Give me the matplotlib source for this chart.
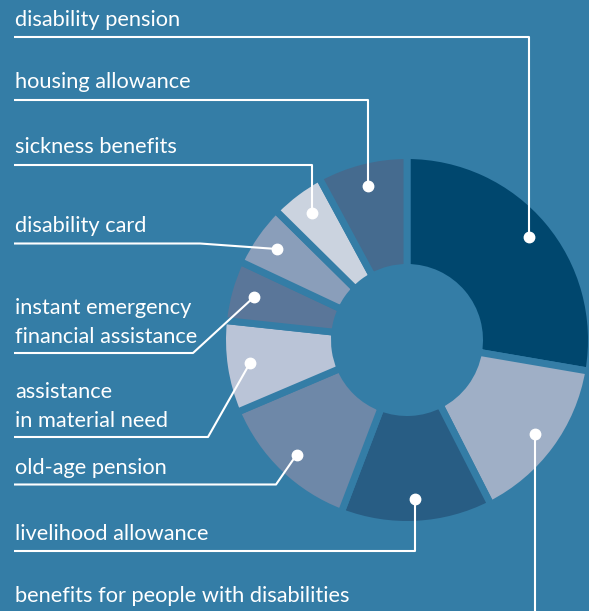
import matplotlib
matplotlib.use("Agg")
import matplotlib.pyplot as plt
import numpy as np

# ---- data (clockwise from 12 o'clock) ----
categories = [
    "disability pension",
    "benefits for people with disabilities",
    "livelihood allowance",
    "old-age pension",
    "assistance\nin material need",
    "instant emergency\nfinancial assistance",
    "disability card",
    "sickness benefits",
    "housing allowance",
]
shares = [27.7, 14.8, 13.3, 12.8, 8.1, 5.3, 5.4, 4.7, 7.9]
colors = ["#00476E", "#9FAFC6", "#285D84", "#6E88A8", "#BAC4D7",
          "#5A7699", "#8A9EBA", "#CBD3DF", "#456B8F"]

BG = "#347DA6"
W, H = 589, 611

# ---- layout (pixel coordinates, y downward) ----
cx, cy = 407, 340
R_out, R_in = 181, 76
gap = 5.0  # points
gap_px = gap * 100 / 72
dot_r = 159
# label: (baseline y of last text line, underline y, elbow x or None for vertical)
label_layout = {
    "disability pension": (26, 37, None),
    "housing allowance": (88.5, 100, None),
    "sickness benefits": (153, 165, None),
    "disability card": (232, 243.5, 200),
    "instant emergency\nfinancial assistance": (343, 353, 193),
    "assistance\nin material need": (427, 437, 208),
    "old-age pension": (474.5, 484.5, 276),
    "livelihood allowance": (540, 550.5, None),
    "benefits for people with disabilities": (602, 618, None),
}
line_gap = 29.5
text_x = 14
fs = 15.7

fig = plt.figure(figsize=(W / 100, H / 100), dpi=100)
fig.patch.set_facecolor(BG)
ax = fig.add_axes([0, 0, 1, 1])
ax.set_facecolor(BG)

ax.pie(shares, colors=colors, startangle=-90, counterclock=True,
       center=(cx, cy), radius=R_out + gap_px / 2,
       wedgeprops=dict(width=(R_out + gap_px / 2) - (R_in - gap_px / 2),
                       edgecolor=BG, linewidth=gap, joinstyle="miter"),
       normalize=True, frame=True)

total = sum(shares)
cum = 0.0
for cat, s in zip(categories, shares):
    mid = -90 + (cum + s / 2) / total * 360
    cum += s
    th = np.deg2rad(mid)
    dx, dy = cx + dot_r * np.cos(th), cy + dot_r * np.sin(th)
    base, uy, ex = label_layout[cat]
    if ex is None:
        xs = [dx, dx, text_x]
        ys = [dy, uy, uy]
    else:
        xs = [dx, ex, text_x]
        ys = [dy, uy, uy]
    ax.plot(xs, ys, color="white", lw=1.5, solid_capstyle="butt", zorder=5)
    ax.plot([dx], [dy], "o", color="white", ms=7.5, zorder=6)
    lines = cat.split("\n")
    for i, ln in enumerate(lines):
        yb = base - (len(lines) - 1 - i) * line_gap
        ax.text(text_x + 1, yb, ln, color="white", fontsize=fs,
                family=["Lato", "DejaVu Sans"], va="baseline", ha="left", zorder=7)

ax.set_xlim(0, W)
ax.set_ylim(H, 0)
ax.set_aspect("auto")
ax.axis("off")
fig.savefig("out.png", dpi=100, facecolor=BG)
